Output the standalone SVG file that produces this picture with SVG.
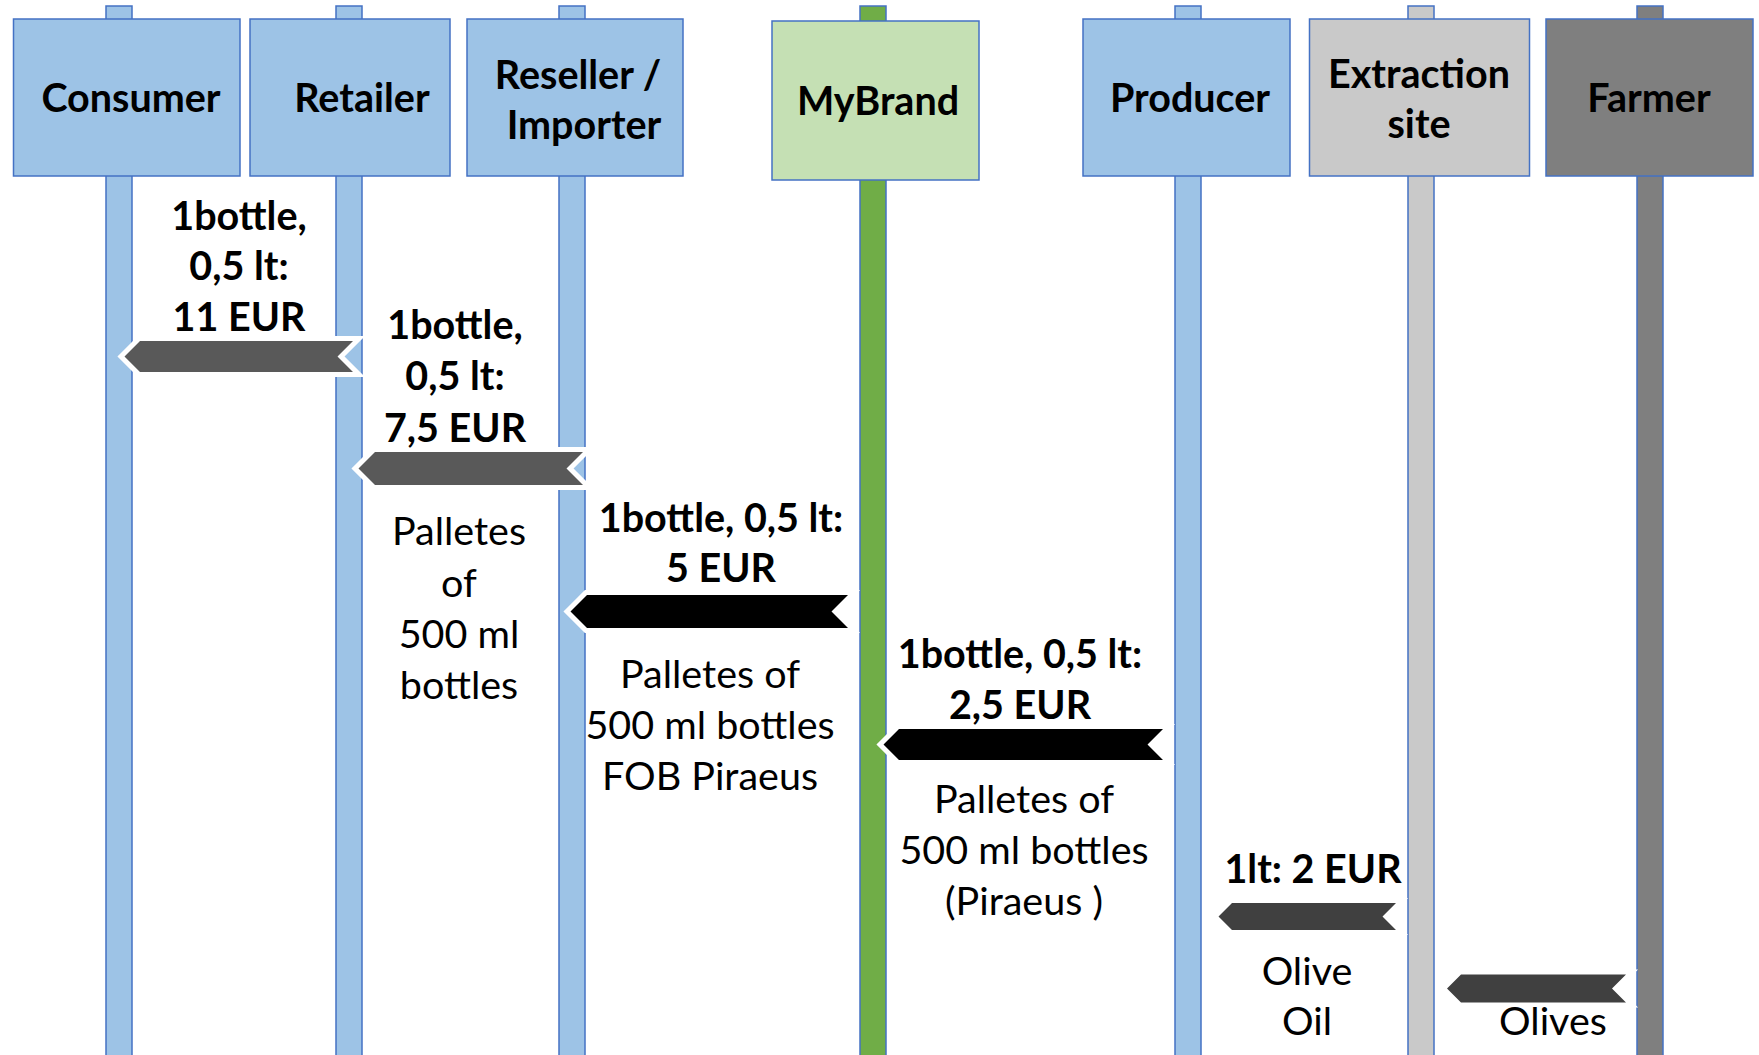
<svg xmlns="http://www.w3.org/2000/svg" width="1759" height="1055" viewBox="0 0 1759 1055">
<style>
.bar{stroke:#4472C4;stroke-width:1.5}
.box{stroke:#4472C4;stroke-width:1.5}
.blue{fill:#9DC3E6}
.green{fill:#C5E0B4}
.gbar{fill:#70AD47}
.lgray{fill:#C9C9C9}
.dgray{fill:#7F7F7F}
.t{font-family:Lato,"Liberation Sans",sans-serif;font-size:39.5px;fill:#000;text-anchor:middle}
.b{font-weight:bold}
.arr{stroke:#FFFFFF;stroke-width:10;stroke-linejoin:miter;paint-order:stroke}
</style>
<rect width="1759" height="1055" fill="#FFFFFF"/>
<g id="consumer">
<rect class="bar blue" x="106" y="6" width="26" height="1060"/>
<rect class="box blue" x="13.5" y="19" width="226.5" height="157"/>
<text class="t b" x="131" y="112">Consumer</text>
</g>
<g id="retailer">
<rect class="bar blue" x="336" y="6" width="26" height="1060"/>
<rect class="box blue" x="250" y="19" width="200" height="157"/>
<text class="t b" x="362" y="112">Retailer</text>
</g>
<g id="reseller">
<rect class="bar blue" x="559" y="6" width="26" height="1060"/>
<rect class="box blue" x="467" y="19" width="216" height="157"/>
<text class="t b" x="578" y="89">Reseller /</text>
<text class="t b" x="584" y="139">Importer</text>
</g>
<g id="mybrand">
<rect class="bar gbar" x="860" y="6" width="26" height="1060"/>
<rect class="box green" x="772" y="21" width="207" height="159"/>
<text class="t b" x="878" y="115">MyBrand</text>
</g>
<g id="producer">
<rect class="bar blue" x="1175" y="6" width="26" height="1060"/>
<rect class="box blue" x="1083" y="19" width="207" height="157"/>
<text class="t b" x="1190" y="112">Producer</text>
</g>
<g id="extraction">
<rect class="bar lgray" x="1408" y="6" width="26" height="1060"/>
<rect class="box lgray" x="1309.5" y="19" width="220" height="157"/>
<text class="t b" x="1419" y="88">Extraction</text>
<text class="t b" x="1419" y="138">site</text>
</g>
<g id="farmer">
<rect class="bar dgray" x="1637" y="6" width="26" height="1060"/>
<rect class="box dgray" x="1546" y="19" width="207" height="157"/>
<text class="t b" x="1649" y="112">Farmer</text>
</g>
<g id="connectors">
<polygon class="arr" fill="#595959" points="124.5,356.5 140,341 353,341 337.5,356.5 353,372 140,372"/>
<polygon class="arr" fill="#595959" points="358.5,468.5 375,452 583,452 566.5,468.5 583,485 375,485"/>
<polygon class="arr" fill="#000000" points="570.5,611.5 587,595 848,595 831.5,611.5 848,628 587,628"/>
<polygon class="arr" fill="#000000" points="883.5,744.5 899,729 1163,729 1147.5,744.5 1163,760 899,760"/>
<polygon class="arr" fill="#404040" points="1218.5,916.5 1232,903 1396,903 1382.5,916.5 1396,930 1232,930"/>
<polygon class="arr" fill="#404040" points="1447,988.5 1461,974.5 1626,974.5 1612,988.5 1626,1002.5 1461,1002.5"/>
</g>
<g id="labels">
<text class="t b" x="239" y="230">1bottle,</text>
<text class="t b" x="239" y="280">0,5 lt:</text>
<text class="t b" x="239" y="331">11 EUR</text>
<text class="t b" x="455" y="339">1bottle,</text>
<text class="t b" x="455" y="390">0,5 lt:</text>
<text class="t b" x="455" y="442">7,5 EUR</text>
<text class="t" x="459" y="545">Palletes</text>
<text class="t" x="459" y="597">of</text>
<text class="t" x="459" y="648">500 ml</text>
<text class="t" x="459" y="699">bottles</text>
<text class="t b" x="721" y="532">1bottle, 0,5 lt:</text>
<text class="t b" x="721" y="582">5 EUR</text>
<text class="t" x="710" y="688">Palletes of</text>
<text class="t" x="710" y="739">500 ml bottles</text>
<text class="t" x="710" y="790">FOB Piraeus</text>
<text class="t b" x="1020" y="668">1bottle, 0,5 lt:</text>
<text class="t b" x="1020" y="719">2,5 EUR</text>
<text class="t" x="1024" y="813">Palletes of</text>
<text class="t" x="1024" y="864">500 ml bottles</text>
<text class="t" x="1024" y="915">(Piraeus )</text>
<text class="t b" x="1313" y="883">1lt: 2 EUR</text>
<text class="t" x="1307" y="985">Olive</text>
<text class="t" x="1307" y="1035">Oil</text>
<text class="t" x="1553" y="1035">Olives</text>
</g>
</svg>
